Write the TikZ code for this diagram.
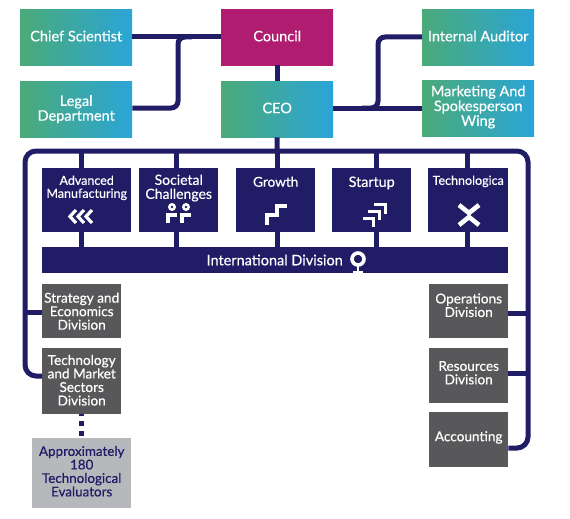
\documentclass[tikz,border=0pt]{standalone}
\usepackage{fontspec}
\setmainfont[RawFeature={embolden=0.5}]{Lato}
\usetikzlibrary{positioning, calc}
\definecolor{navy}{HTML}{211C66}
\definecolor{magenta}{HTML}{B01C70}
\definecolor{slate}{HTML}{58585A}
\definecolor{pale}{HTML}{B7B8BC}
\definecolor{greenish}{HTML}{4BAA78}
\definecolor{bluish}{HTML}{2AA5D8}

\begin{document}
\begin{tikzpicture}[x=1pt, y=-1pt, font=\fontsize{14.5}{14.8}\selectfont,
  base/.style={text=white, align=center, inner sep=0pt, minimum width=#1, anchor=north west},
  topbox/.style={base=112pt, minimum height=56pt, left color=greenish, right color=bluish},
  unitbox/.style={base=#1, minimum height=64pt, fill=navy, font=\fontsize{13.6}{13.8}\selectfont},
  divbox/.style={base=79pt, fill=slate, font=\fontsize{13.6}{13.5}\selectfont},
  link/.style={draw=navy, line width=5pt},
  icon/.style={draw=white, line width=3.2pt}]
  \useasboundingbox (0,0) rectangle (570,519);

  \node[topbox, text depth=2.5pt] (chief) at (20,9) {Chief Scientist};
  \node[topbox] (legal) at (20,81) {Legal\\Department};
  \node[topbox, text depth=2.5pt, left color=magenta, right color=magenta] (council) at (221,9) {Council};
  \node[topbox, text depth=2.5pt] (ceo) at (221,81) {CEO};
  \node[topbox, text depth=2.5pt] (auditor) at (422,9) {Internal Auditor};
  \node[topbox, text depth=5pt] (marketing) at (422,80) {Marketing And\\Spokesperson\\Wing};

  \node[unitbox=89pt, text depth=27pt, font=\fontsize{12.5}{13}\selectfont] (advanced) at (42,168) {Advanced\\Manufacturing};
  \node[unitbox=79pt, text depth=27pt, font=\fontsize{14}{14}\selectfont] (societal) at (139,168) {Societal\\Challenges};
  \node[unitbox=79pt, text depth=37pt] (growth) at (236,168) {Growth};
  \node[unitbox=79pt, text depth=37pt, font=\fontsize{14.3}{14}\selectfont] (startup) at (332,168) {Startup};
  \node[unitbox=80pt, text depth=40pt, font=\fontsize{12.5}{14}\selectfont] (techno) at (428,168) {Technologica};
  \node[base=466pt, minimum height=26pt, fill=navy] (intl) at (42,247) {};
  \node[text=white, inner sep=0pt, anchor=east] (intllabel) at (343,260) {International Division};

  \node[divbox, minimum height=54pt] (strategy) at (42,284) {Strategy and\\Economics\\Division};
  \node[divbox, minimum height=66pt, text depth=2pt] (techsec) at (42,348) {Technology\\and Market\\Sectors\\Division};
  \node[divbox, minimum height=54pt, text depth=12pt] (operations) at (429,284) {Operations\\Division};
  \node[divbox, minimum height=55pt, text depth=6pt] (resources) at (429,348) {Resources\\Division};
  \node[divbox, minimum height=55pt, text depth=7pt] (accounting) at (429,412) {Accounting};
  \node[base=99pt, minimum height=70pt, fill=pale, text=navy, font=\fontsize{13.4}{13.5}\selectfont, text depth=4pt] (evaluators) at (32,438) {Approximately\\180\\Technological\\Evaluators};

  % top level
  \draw[link] (chief.east |- 0,37) -- (council.west |- 0,37);
  \draw[link, rounded corners=7pt] (legal.east |- 0,108) -- (178,108) -- (178,37) -- (192,37);
  \draw[link] (council) -- (ceo);
  \draw[link] (ceo.east |- 0,108) -- (marketing.west |- 0,108);
  \draw[link, rounded corners=7pt] (362,108) -- (378,108) -- (378,37) -- (auditor.west |- 0,37);

  % main frame
  \draw[link, rounded corners=11pt] (techsec.west |- 0,376) -- (25,376) -- (25,151) -- (528,151) -- (528,448) -- (accounting.east |- 0,448);
  \draw[link] (ceo) -- (277,151);
  \draw[link] (operations.east |- 0,313) -- (528,313);
  \draw[link] (resources.east |- 0,373) -- (528,373);
  \draw[link] (strategy.west |- 0,312) -- (25,312);
  \foreach \i/\xpos in {advanced/81, societal/176, growth/277, startup/376, techno/467} {
    \draw[link] (\xpos,151) -- (\i.north -| \xpos,0);
    \draw[link] (\i.south -| \xpos,0) -- (intl.north -| \xpos,0);
  }
  \draw[draw=navy, line width=5pt, dash pattern=on 5pt off 5pt, dash phase=3pt] (techsec.south -| 81,0) -- (evaluators.north -| 81,0);

  % icons
  \foreach \xpos in {69,77,85}
    \draw[icon, miter limit=10] (\xpos+7,210) -- (\xpos+1,216.5) -- (\xpos+7,223);
  \foreach \xpos in {172,186} {
    \fill[white] (\xpos,207) circle (4pt);
    \fill[navy] (\xpos,207) circle (1.4pt);
  }
  \draw[icon] (168,223) -- (168,215) -- (177,215);
  \draw[icon] (182,223) -- (182,215) -- (191,215);
  \draw[icon] (267,225) -- (267,215) -- (277,215) -- (277,206) -- (287,206);
  \draw[icon, line width=3pt] (363,218) -- (373,218) -- (373,227);
  \draw[icon, line width=3pt] (368,211) -- (379,211) -- (379,220);
  \draw[icon, line width=3pt] (374,204) -- (385,204) -- (385,214);
  \draw[icon, line width=4.6pt] (459,205) -- (469,213) -- (479,205);
  \draw[icon, line width=4.6pt] (459,225) -- (469,217) -- (479,225);
  \draw[icon, line width=3.6pt] (358,259) circle (6pt);
  \draw[icon, line width=2.6pt] (358,265) -- (358,271);
  \draw[icon, line width=2.6pt] (353,272) -- (363,272);
\end{tikzpicture}
\end{document}
